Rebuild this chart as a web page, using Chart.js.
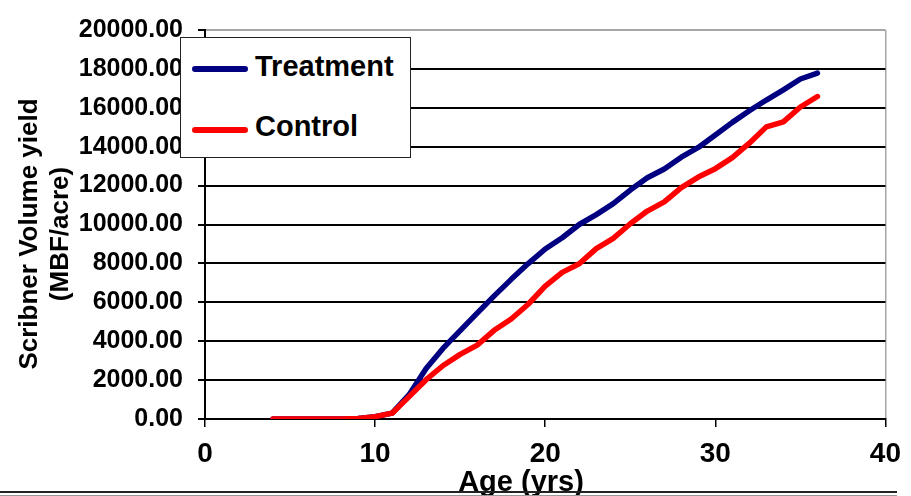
<!DOCTYPE html>
<html>
<head>
<meta charset="utf-8">
<script src="https://cdn.jsdelivr.net/npm/chart.js@4"></script>
<style>
  html, body { margin: 0; padding: 0; background: #fff; }
  #wrap { position: relative; width: 911px; height: 496px; overflow: hidden; }
  #legend {
    position: absolute; left: 180px; top: 37px; width: 231px; height: 121px;
    box-sizing: border-box; border: 1.5px solid #222; background: #fff;
  }
  #legend .swatch { position: absolute; left: 11px; width: 56px; height: 6px; border-radius: 3px; }
  #legend .label {
    position: absolute; left: 74px; font: bold 29px "Liberation Sans", Arial, sans-serif;
    line-height: 29px; color: #000; white-space: nowrap;
  }
  #rule1 { position: absolute; left: 0; top: 491px; width: 897px; height: 2px; background: #222; }
  #rule2 { position: absolute; left: 0; top: 495px; width: 897px; height: 1px; background: #999; }
</style>
</head>
<body>
<div id="wrap">
  <canvas id="yieldChart" width="911" height="496"></canvas>
  <div id="legend"></div>
  <div id="rule1"></div>
  <div id="rule2"></div>
</div>
<script>
// stand age and scribner volume per series
const ages = [4, 5, 6, 7, 8, 9, 10, 11, 12, 13, 14, 15, 16, 17, 18, 19, 20,
  21, 22, 23, 24, 25, 26, 27, 28, 29, 30, 31, 32, 33, 34, 35, 36];
const treatment = [0, 0, 0, 0, 0, 30, 120, 300, 1250, 2600, 3640, 4540, 5440, 6330, 7180, 7990, 8740,
  9320, 10000, 10510, 11070, 11770, 12400, 12850, 13460, 13960, 14600, 15250, 15850, 16400, 16920, 17480, 17780];
const control = [0, 0, 0, 0, 0, 30, 120, 300, 1150, 2020, 2750, 3320, 3800, 4560, 5140, 5900, 6830,
  7540, 7980, 8760, 9290, 10040, 10690, 11160, 11900, 12440, 12870, 13440, 14180, 15020, 15280, 16040, 16580];

const seriesNames = ["Treatment", "Control"];
const seriesColors = ["#000080", "#ff0000"];
const xTitle = "Age (yrs)";
const yTitle = ["Scribner Volume yield", "(MBF/acre)"];

const FONT = '"Liberation Sans", Arial, sans-serif';

const toPoints = (vals) => ages.map((a, i) => ({ x: a, y: vals[i] }));

// axis titles drawn at fixed spots next to the plot
const axisTitles = {
  id: "axisTitles",
  afterDraw(chart) {
    const ctx = chart.ctx;
    ctx.save();
    ctx.fillStyle = "#000";
    ctx.textAlign = "center";
    ctx.textBaseline = "alphabetic";

    ctx.font = `bold 29px ${FONT}`;
    ctx.fillText(xTitle, 521, 491);

    ctx.font = `bold 26px ${FONT}`;
    const baselines = [37, 68];
    yTitle.forEach((line, i) => {
      ctx.save();
      ctx.translate(baselines[i], 234);
      ctx.rotate(-Math.PI / 2);
      ctx.fillText(line, 0, 0);
      ctx.restore();
    });
    ctx.restore();
  },
};

const chart = new Chart(document.getElementById("yieldChart"), {
  type: "line",
  data: {
    datasets: [
      {
        label: seriesNames[0],
        data: toPoints(treatment),
        borderColor: seriesColors[0],
        order: 1,
      },
      {
        label: seriesNames[1],
        data: toPoints(control),
        borderColor: seriesColors[1],
        order: 0,
      },
    ].map((d) => ({
      ...d,
      borderWidth: 5.5,
      borderCapStyle: "round",
      borderJoinStyle: "round",
      pointRadius: 0,
      tension: 0,
      fill: false,
    })),
  },
  options: {
    responsive: false,
    animation: false,
    devicePixelRatio: 1,
    layout: { padding: { top: 25, right: 25, left: 0, bottom: 0 } },
    plugins: {
      legend: { display: false },
      tooltip: { enabled: false },
    },
    scales: {
      x: {
        type: "linear",
        min: 0,
        max: 40,
        ticks: {
          stepSize: 10,
          color: "#000",
          padding: 10,
          maxRotation: 0,
          font: { family: FONT, size: 28, weight: "bold" },
        },
        grid: {
          color: (c) => (c.tick && c.tick.value === 40 ? "#a6a6a6" : "rgba(0,0,0,0)"),
          tickColor: "#000",
          tickLength: 8,
          lineWidth: 1.5,
        },
        border: { color: "#000", width: 2 },
        afterFit: (s) => { s.height = 77; },
      },
      y: {
        min: 0,
        max: 20000,
        ticks: {
          stepSize: 2000,
          color: "#000",
          padding: 15,
          font: { family: FONT, size: 25, weight: "bold" },
          callback: (v) => v.toFixed(2),
        },
        grid: {
          color: (c) => (c.tick && c.tick.value === 20000 ? "#a6a6a6" : "#000"),
          tickColor: "#000",
          tickLength: 7,
          lineWidth: 2,
        },
        border: { color: "#000", width: 2 },
        afterFit: (s) => { s.width = 205; },
      },
    },
  },
  plugins: [axisTitles],
});

// legend box built from the dataset names and colours
const legendEl = document.getElementById("legend");
const swatchTops = [28, 89];
const labelTops = [14, 74];
chart.data.datasets.forEach((ds, i) => {
  const sw = document.createElement("div");
  sw.className = "swatch";
  sw.style.top = swatchTops[i] + "px";
  sw.style.background = ds.borderColor;
  legendEl.appendChild(sw);

  const lb = document.createElement("div");
  lb.className = "label";
  lb.style.top = labelTops[i] + "px";
  lb.textContent = ds.label;
  legendEl.appendChild(lb);
});
</script>
</body>
</html>
